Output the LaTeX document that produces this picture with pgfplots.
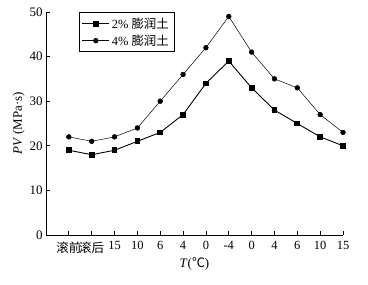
\documentclass[border=0pt]{standalone}
\usepackage{fontspec}
\setmainfont{Liberation Serif}
\newfontfamily\cjk{Noto Sans CJK SC}
\usepackage{pgfplots}
\pgfplotsset{compat=1.18}
\begin{document}
\begin{tikzpicture}
\begin{axis}[
  scale only axis,
  width=297bp, height=223bp,
  xmin=-1, xmax=12, ymin=0, ymax=50,
  axis x line*=bottom, axis y line*=left,
  axis line style={line width=0.8pt, -},
  xtick={0,...,12},
  xticklabels={{\cjk 滚前},{\cjk 滚后},15,10,6,4,0,-4,0,4,6,10,15},
  ytick={0,10,...,50},
  tick align=inside,
  major tick length=3.5bp,
  tick style={black, line width=0.7pt},
  /pgf/number format/assume math mode=true,
  tick label style={font=\fontsize{13}{15}\selectfont},
  xticklabel style={yshift=-3bp, font=\fontsize{12.5}{15}\selectfont},
  xlabel={\textit{T}({\cjk ℃})},
  ylabel={\textit{PV} (MPa·s)},
  label style={font=\fontsize{13}{15}\selectfont},
  xlabel style={yshift=2bp},
  ylabel style={yshift=-2bp},
  legend style={at={(rel axis cs:0.11,0.998)}, anchor=north west, draw=black, line width=0.5pt,
    font=\fontsize{12.5}{14}\selectfont, row sep=1pt, inner sep=3pt},
  legend image code/.code={\draw[mark repeat=2,mark phase=2,#1] plot coordinates {(0bp,0bp) (13.5bp,0bp) (27bp,0bp)};},
  legend cell align=left,
  clip=false,
]
\addplot[black, line width=0.9pt, mark=square*, mark size=2.4pt, mark options={solid}]
  coordinates {(0,19)(1,18)(2,19)(3,21)(4,23)(5,27)(6,34)(7,39)(8,33)(9,28)(10,25)(11,22)(12,20)};
\addlegendentry{2\% {\cjk 膨润土}}
\addplot[black, line width=0.5pt, mark=*, mark size=2.4pt, mark options={solid}]
  coordinates {(0,22)(1,21)(2,22)(3,24)(4,30)(5,36)(6,42)(7,49)(8,41)(9,35)(10,33)(11,27)(12,23)};
\addlegendentry{4\% {\cjk 膨润土}}
\end{axis}
\pgfresetboundingbox
\path ([xshift=-46bp,yshift=-50bp]current axis.south west) rectangle ([xshift=25bp,yshift=12bp]current axis.north east);
\end{tikzpicture}
\end{document}
